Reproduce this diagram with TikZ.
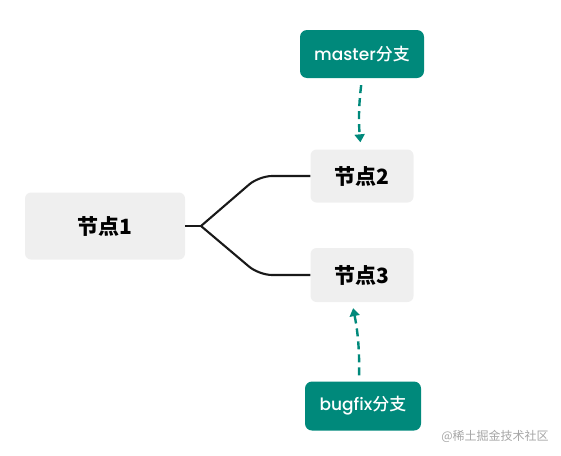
\documentclass[tikz,border=0pt]{standalone}
\usepackage{fontspec}
\setmainfont{Poppins}
\newfontfamily\cjk{Noto Sans CJK SC}
\newfontfamily\cjkmed{Noto Sans CJK SC Medium}
\newfontfamily\latmed{Poppins Medium}
\usetikzlibrary{arrows.meta}

\definecolor{branchteal}{RGB}{0,137,123}
\definecolor{knotgray}{RGB}{239,239,239}

\begin{document}
\begin{tikzpicture}[x=1pt, y=-1pt,
    knot/.style={fill=knotgray, rounded corners=6pt, inner sep=0pt,
      minimum width=103pt, minimum height=53pt, font=\fontsize{21}{24}\selectfont\bfseries},
    branch/.style={fill=branchteal, text=white, rounded corners=7pt, inner sep=0pt,
      minimum height=48pt, font=\fontsize{17}{20}\selectfont},
    pointer/.style={branchteal, line width=2.4pt, dash pattern=on 8pt off 5pt,
      -{Triangle[length=8pt, width=10pt]}},
    link/.style={black!90, line width=2.1pt}]
    \useasboundingbox (0,0) rectangle (561,455);

    \node[knot, minimum width=160pt, minimum height=67pt] (n1) at (105,226) {\cjk 节点1};
    \node[knot] (n2) at (362,176) {\cjk 节点2};
    \node[knot, minimum height=54pt] (n3) at (362,275) {\cjk 节点3};

    \node[branch, minimum width=124pt] (master) at (362,54) {\latmed master\cjkmed 分支};
    \node[branch, minimum width=116pt, minimum height=49pt] (bugfix) at (363,406) {\latmed bugfix\cjkmed 分支};

    % fork from 节点1
    \coordinate (fork) at (201,226);
    \draw[link] (n1.east) -- (fork);
    \draw[link, rounded corners=13pt] (fork) -- (259,176) -- (n2.west);
    \draw[link, rounded corners=13pt] (fork) -- (259,275) -- (n3.west);

    % branch pointers
    \draw[pointer, shorten <=7pt, shorten >=7pt] (master.south) to[bend right=6] ([xshift=-1pt]n2.north);
    \draw[pointer, shorten <=6pt, shorten >=6pt] ([xshift=-4pt]bugfix.north) to[bend right=6] ([xshift=-10pt]n3.south);

    \node[text=black!35, font=\fontsize{12}{14}\selectfont] (mark) at (495,436) {\cjk @稀土掘金技术社区};
  \end{tikzpicture}
\end{document}
